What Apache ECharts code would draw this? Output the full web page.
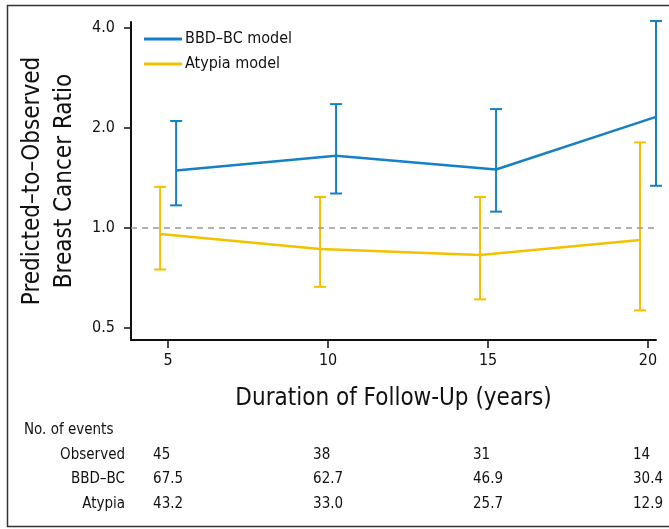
<!DOCTYPE html>
<html>
<head>
<meta charset="utf-8">
<script src="https://cdn.jsdelivr.net/npm/echarts@6/dist/echarts.min.js"></script>
<style>
html, body { margin: 0; padding: 0; background: #fff; }
#chart { width: 669px; height: 529px; }
</style>
</head>
<body>
<div id="chart"></div>
<script>
// follow-up years (x ticks)
const years = [5, 10, 15, 20];
// y tick labels (ratio, log2 scale)
const yTicks = [0.5, 1.0, 2.0, 4.0];

// BBD-BC model: ratio and 95% CI
const bbdRatio = [1.49, 1.65, 1.50, 2.16];
const bbdLow = [1.17, 1.27, 1.12, 1.34];
const bbdHigh = [2.10, 2.36, 2.28, 4.20];

// Atypia model: ratio and 95% CI
const atyRatio = [0.96, 0.865, 0.83, 0.92];
const atyLow = [0.75, 0.665, 0.61, 0.565];
const atyHigh = [1.33, 1.24, 1.24, 1.81];

// no. of events table
const rowLabels = ['Observed', 'BBD–BC', 'Atypia'];
const observedEvents = ['45', '38', '31', '14'];
const bbdEvents = ['67.5', '62.7', '46.9', '30.4'];
const atyEvents = ['43.2', '33.0', '25.7', '12.9'];

const BLUE = '#1580c6';
const YELLOW = '#f2c100';
const FONT = '"Liberation Sans Narrow", "DejaVu Sans Condensed", Arial, sans-serif';
const DODGE = 0.25;

const lg = v => Math.log2(v);

function errorBars(name, color, offset, lo, hi) {
    return {
        type: 'custom',
        name: name,
        silent: true,
        data: years.map((yr, i) => [yr + offset, lg(lo[i]), lg(hi[i])]),
        encode: { x: 0, y: [1, 2] },
        renderItem(params, api) {
            const top = api.coord([api.value(0), api.value(2)]);
            const bot = api.coord([api.value(0), api.value(1)]);
            const w = 6;
            const st = { stroke: color, lineWidth: 2 };
            return {
                type: 'group',
                children: [
                    { type: 'line', shape: { x1: top[0], y1: top[1], x2: bot[0], y2: bot[1] }, style: st },
                    { type: 'line', shape: { x1: top[0] - w, y1: top[1], x2: top[0] + w, y2: top[1] }, style: st },
                    { type: 'line', shape: { x1: bot[0] - w, y1: bot[1], x2: bot[0] + w, y2: bot[1] }, style: st }
                ]
            };
        }
    };
}

const chart = echarts.init(document.getElementById('chart'));

chart.setOption({
    animation: false,
    textStyle: { fontFamily: FONT },
    grid: { left: 131, right: 13, top: 22, bottom: 189 },
    legend: {
        data: ['BBD–BC model', 'Atypia model'],
        orient: 'vertical',
        left: 139,
        top: 26,
        itemWidth: 38,
        itemHeight: 3,
        itemGap: 9,
        icon: 'rect',
        textStyle: { fontFamily: FONT, fontSize: 16, color: '#111', padding: [0, 0, 0, -2] }
    },
    xAxis: {
        type: 'value',
        min: 3.84,
        max: 20.25,
        name: 'Duration of Follow-Up (years)',
        nameLocation: 'middle',
        nameGap: 47,
        nameTextStyle: { fontFamily: FONT, fontSize: 24, color: '#111' },
        splitLine: { show: false },
        axisLine: { onZero: false, lineStyle: { color: '#111', width: 2 } },
        axisTick: { customValues: years, length: 8, lineStyle: { color: '#111', width: 1.5 } },
        axisLabel: { customValues: years, margin: 13, fontSize: 16, color: '#111' }
    },
    yAxis: {
        type: 'value',
        min: -1.12,
        max: 2.06,
        name: 'Predicted–to–Observed\nBreast Cancer Ratio',
        nameLocation: 'middle',
        nameGap: 48,
        nameTextStyle: { fontFamily: FONT, fontSize: 24, color: '#111', lineHeight: 32 },
        splitLine: { show: false },
        axisLine: { show: true, lineStyle: { color: '#111', width: 2 } },
        axisTick: { customValues: yTicks.map(lg), length: 7, lineStyle: { color: '#111', width: 1.5 } },
        axisLabel: {
            customValues: yTicks.map(lg),
            margin: 16,
            fontSize: 16,
            color: '#111',
            formatter: v => Math.pow(2, v).toFixed(1)
        }
    },
    series: [
        {
            name: 'BBD–BC model',
            type: 'line',
            color: BLUE,
            showSymbol: false,
            lineStyle: { width: 2.5, color: BLUE },
            data: years.map((yr, i) => [yr + DODGE, lg(bbdRatio[i])]),
            markLine: {
                silent: true,
                symbol: 'none',
                label: { show: false },
                lineStyle: { color: '#999', type: [6, 5], width: 1.5 },
                data: [{ yAxis: 0 }]
            },
            z: 3
        },
        {
            name: 'Atypia model',
            type: 'line',
            color: YELLOW,
            showSymbol: false,
            lineStyle: { width: 2.5, color: YELLOW },
            data: years.map((yr, i) => [yr - DODGE, lg(atyRatio[i])]),
            z: 3
        },
        errorBars('bbd ci', BLUE, DODGE, bbdLow, bbdHigh),
        errorBars('aty ci', YELLOW, -DODGE, atyLow, atyHigh)
    ]
});

// table of events under the x axis, columns aligned to the x ticks
const graphics = [
    {
        type: 'rect',
        shape: { x: 7.5, y: 5.5, width: 680, height: 521 },
        style: { fill: 'none', stroke: '#333', lineWidth: 1.5 },
        silent: true
    },
    {
        type: 'text', left: 24, top: 423,
        style: { text: 'No. of events', font: '15px ' + FONT, fill: '#111' }
    }
];
const rows = [observedEvents, bbdEvents, atyEvents];
const rowY = [455, 479, 504];
rows.forEach((vals, r) => {
    graphics.push({
        type: 'text', x: 125, y: rowY[r],
        style: { text: rowLabels[r], font: '15px ' + FONT, fill: '#111', align: 'right', verticalAlign: 'middle' }
    });
    vals.forEach((v, c) => {
        const px = chart.convertToPixel({ xAxisIndex: 0 }, years[c]);
        graphics.push({
            type: 'text', x: px - 15, y: rowY[r],
            style: { text: v, font: '15px ' + FONT, fill: '#111', align: 'left', verticalAlign: 'middle' }
        });
    });
});
chart.setOption({ graphic: graphics });
</script>
</body>
</html>
